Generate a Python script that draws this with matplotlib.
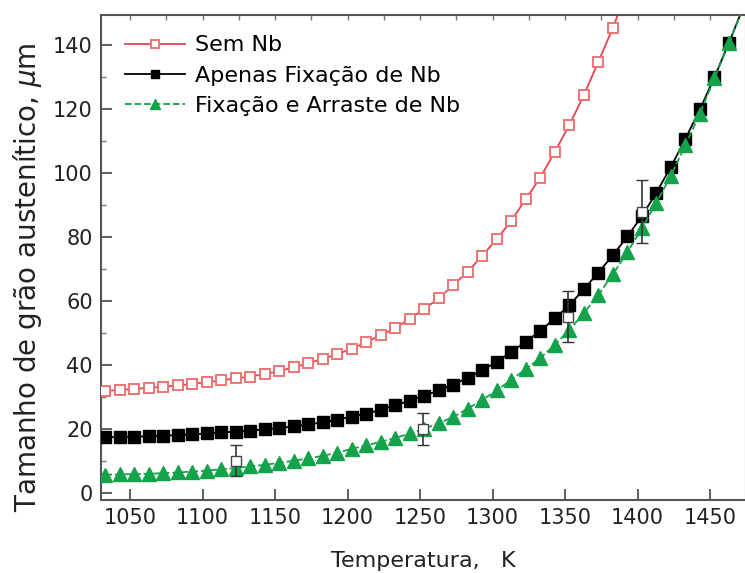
import matplotlib
matplotlib.use('Agg')
import matplotlib.pyplot as plt
import numpy as np
from matplotlib.ticker import MultipleLocator, NullFormatter

# Temperature grid of the model curves (K)
temp_sem = [1033, 1043, 1053, 1063, 1073, 1083, 1093, 1103, 1113, 1123,
            1133, 1143, 1153, 1163, 1173, 1183, 1193, 1203, 1213, 1223,
            1233, 1243, 1253, 1263, 1273, 1283, 1293, 1303, 1313, 1323,
            1333, 1343, 1353, 1363, 1373, 1383]
sem_nb = [32.0, 32.3, 32.6, 33.0, 33.3, 33.7, 34.2, 34.7, 35.3, 35.9,
          36.5, 37.3, 38.2, 39.4, 40.7, 42.0, 43.5, 45.2, 47.2, 49.5,
          51.6, 54.6, 57.6, 61.0, 65.1, 69.3, 74.3, 79.5, 85.2, 92.0,
          98.7, 106.8, 115.1, 124.5, 134.9, 145.5]
# the line leaves the frame after the last marker
sem_tail_t = [1383, 1393]
sem_tail_v = [145.5, 157.5]

temp_nb = [1033, 1043, 1053, 1063, 1073, 1083, 1093, 1103, 1113, 1123,
           1133, 1143, 1153, 1163, 1173, 1183, 1193, 1203, 1213, 1223,
           1233, 1243, 1253, 1263, 1273, 1283, 1293, 1303, 1313, 1323,
           1333, 1343, 1353, 1363, 1373, 1383, 1393, 1403, 1413, 1423,
           1433, 1443, 1453, 1463]
fixacao = [17.5, 17.6, 17.7, 17.8, 18.0, 18.2, 18.4, 18.7, 19.0, 19.3,
           19.6, 20.0, 20.4, 20.9, 21.5, 22.2, 23.0, 24.0, 24.9, 26.1,
           27.5, 29.0, 30.5, 32.2, 34.0, 36.1, 38.5, 41.1, 44.2, 47.4,
           50.8, 54.7, 58.8, 63.8, 69.0, 74.4, 80.3, 86.6, 94.0, 102.0,
           110.8, 120.0, 130.0, 140.8]
arraste = [5.8, 5.9, 6.0, 6.1, 6.3, 6.5, 6.8, 7.1, 7.5, 7.9,
           8.4, 8.9, 9.5, 10.2, 10.9, 11.7, 12.7, 13.9, 15.0, 16.1,
           17.3, 18.7, 20.2, 21.9, 23.9, 26.5, 29.2, 32.2, 35.5, 38.8,
           42.3, 46.4, 51.1, 56.3, 62.0, 68.5, 75.3, 82.8, 90.8, 99.3,
           108.8, 118.7, 129.7, 140.6]
nb_tail_t = [1463, 1473]
fix_tail_v = [140.8, 152.0]
arr_tail_v = [140.6, 152.0]

# experimental points with error bars
exp_t = [1123, 1252, 1352, 1403]
exp_v = [10.2, 20.0, 55.2, 88.0]
exp_err = [4.8, 5.0, 7.9, 9.9]

RED_LINE = '#e8434f'
RED_MARK = '#f07474'
GREEN = '#14a24a'
TXT = '#222222'

fig = plt.figure(figsize=(7.45, 5.73), dpi=100)
ax = fig.add_axes([101 / 745, 73 / 573, 645 / 745, 485 / 573])

ax.plot(sem_tail_t, sem_tail_v, '-', color=RED_LINE, lw=1.3, zorder=2)
ax.plot(temp_sem, sem_nb, '-s', color=RED_LINE, lw=1.3, ms=7.6,
        mfc='white', mec=RED_MARK, mew=1.4, zorder=3, label='Sem Nb')

ax.plot(nb_tail_t, fix_tail_v, '-', color='black', lw=1.3, zorder=2)
ax.plot(temp_nb, fixacao, '-s', color='black', lw=1.3, ms=8,
        mfc='black', mec='black', zorder=3, label='Apenas Fixação de Nb')

ax.plot(nb_tail_t, arr_tail_v, '--', color=GREEN, lw=1.3, zorder=4)
ax.plot(temp_nb, arraste, '--^', color=GREEN, lw=1.3, ms=9.5,
        mfc=GREEN, mec=GREEN, zorder=4, label='Fixação e Arraste de Nb')

ax.errorbar(exp_t, exp_v, yerr=exp_err, fmt='s', ms=7, mfc='white',
            mec='#444444', mew=1.0, ecolor='#333333', elinewidth=1.2,
            capsize=4, capthick=1.2, zorder=5)

ax.set_xlim(1030, 1474.8)
ax.set_ylim(-2.1, 149.5)
ax.xaxis.set_major_locator(MultipleLocator(50))
ax.xaxis.set_minor_locator(MultipleLocator(25))
ax.yaxis.set_major_locator(MultipleLocator(20))
ax.yaxis.set_minor_locator(MultipleLocator(10))
ax.tick_params(which='major', direction='in', length=8, width=1.2,
               color='#444444', labelsize=15, pad=6,
               top=False, right=False, labelcolor=TXT)
ax.tick_params(which='minor', direction='in', length=3.5, width=1.0,
               color='#777777', top=False, right=False)
ax.tick_params(axis='x', which='minor', bottom=False)

# small ticks every 25 K along the top frame
top = ax.secondary_xaxis('top')
top.xaxis.set_major_locator(MultipleLocator(25))
top.xaxis.set_major_formatter(NullFormatter())
top.tick_params(direction='in', length=3.5, width=1.0, color='#777777')
top.spines['top'].set_visible(False)

for sp in ax.spines.values():
    sp.set_color('#555555')
    sp.set_linewidth(1.5)

ax.set_xlabel('Temperatura,   K', fontsize=16, color=TXT, labelpad=16)
ax.set_ylabel(r'Tamanho de grão austenítico, $\mu$m', fontsize=20,
              color=TXT)
ax.yaxis.set_label_coords(-0.088, 0.46)

ax.legend(loc='upper left', bbox_to_anchor=(0.037, 0.958), frameon=False,
          fontsize=16, handlelength=2.7, handletextpad=0.45,
          labelspacing=0.47, borderpad=0, borderaxespad=0, markerscale=0.75)

fig.savefig('out.png', dpi=100)
